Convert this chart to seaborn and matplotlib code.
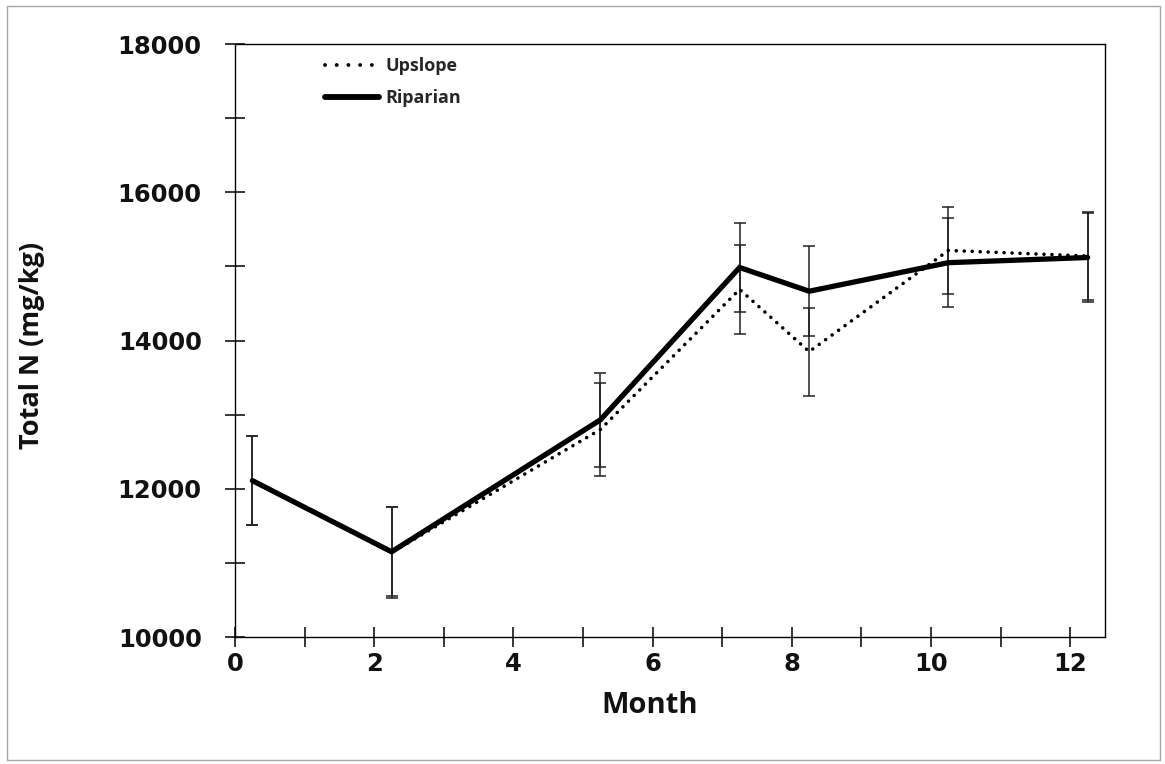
import numpy as np
import pandas as pd
import matplotlib
matplotlib.use("Agg")
import matplotlib.pyplot as plt
from matplotlib.lines import Line2D
from matplotlib.patches import Rectangle
import seaborn as sns

# Sampling months and mean total N for each site
months = [0.25, 2.25, 5.25, 7.25, 8.25, 10.25, 12.25]
upslope = [12110, 11140, 12800, 14690, 13850, 15215, 15140]
riparian = [12110, 11150, 12930, 14985, 14665, 15050, 15120]
# Standard errors
upslope_err = [600, 610, 625, 600, 595, 590, 600]
riparian_err = [600, 600, 630, 600, 610, 600, 600]

sites = ["Upslope", "Riparian"]
x_labels = ["0", "2", "4", "6", "8", "10", "12"]
y_labels = ["10000", "12000", "14000", "16000", "18000"]

df = pd.DataFrame({
    "Month": months * 2,
    "Total N": upslope + riparian,
    "Site": ["Upslope"] * len(months) + ["Riparian"] * len(months),
})

sns.set_style("white")
tick_font = "DejaVu Sans"
title_font = "Open Sans"
DOTS = (0, (0.01, 2.2))
LEGEND_DOTS = (0, (0.01, 3.0))

fig = plt.figure(figsize=(11.65, 7.64), dpi=100)
ax = fig.add_axes([0.2017, 0.1662, 0.7468, 0.7762])

# Error bars under the lines
ax.errorbar(months, upslope, yerr=upslope_err, fmt="none", ecolor="#222222",
            elinewidth=1.1, capsize=4.6, capthick=1.1, zorder=2)
ax.errorbar(months, riparian, yerr=riparian_err, fmt="none", ecolor="#222222",
            elinewidth=1.1, capsize=4.6, capthick=1.1, zorder=2)

n_before = len(ax.get_lines())
sns.lineplot(data=df, x="Month", y="Total N", hue="Site", style="Site",
             size="Site", hue_order=sites, style_order=sites, size_order=sites,
             palette={"Upslope": "black", "Riparian": "black"},
             dashes={"Upslope": (1, 1), "Riparian": ""},
             sizes={"Upslope": 2.6, "Riparian": 3.8},
             legend=False, ax=ax, zorder=3)

series_lines = ax.get_lines()[n_before:]
for line in series_lines:
    line.set_solid_capstyle("round")
    line.set_solid_joinstyle("miter")
# Upslope drawn as round dots
series_lines[0].set_linestyle(DOTS)
series_lines[0].set_dash_capstyle("round")

ax.set_xlim(0, 12.5)
ax.set_ylim(10000, 18000)
ax.set_xticks([int(v) for v in x_labels])
ax.set_xticklabels(x_labels)
ax.set_xticks(np.arange(1, 12, 2), minor=True)
ax.set_yticks([int(v) for v in y_labels])
ax.set_yticklabels(y_labels)
ax.set_yticks(np.arange(11000, 18000, 2000), minor=True)

for which in ("major", "minor"):
    ax.tick_params(axis="both", which=which, direction="inout", length=14,
                   width=1.1, color="black", bottom=True, left=True,
                   top=False, right=False)
ax.tick_params(axis="x", which="major", pad=4)
ax.tick_params(axis="y", which="major", pad=17)

for lab in ax.get_xticklabels() + ax.get_yticklabels():
    lab.set_fontfamily(tick_font)
    lab.set_fontweight("bold")
    lab.set_fontsize(17.5)
    lab.set_color("#111111")

for sp in ax.spines.values():
    sp.set_visible(True)
    sp.set_color("black")
    sp.set_linewidth(1.0)

ax.set_xlabel("Month", fontfamily=title_font, fontweight="bold", fontsize=21,
              color="#111111")
ax.set_ylabel("Total N (mg/kg)", fontfamily=title_font, fontweight="bold",
              fontsize=19.5, color="#111111")
ax.xaxis.set_label_coords((650 - 235) / 870, -(705 - 637) / 593)
ax.yaxis.set_label_coords(-(235 - 32) / 870, (637 - 345) / 593)
ax.xaxis.label.set_va("center")
ax.yaxis.label.set_va("center")

handles = [
    Line2D([], [], color="black", lw=2.8, linestyle=LEGEND_DOTS,
           dash_capstyle="round"),
    Line2D([], [], color="black", lw=4.2, solid_capstyle="round"),
]
leg = ax.legend(handles, sites, loc="upper left", bbox_to_anchor=(0.085, 1.005),
                frameon=False, handlelength=3.0, handletextpad=0.35,
                labelspacing=0.75, prop={"family": title_font, "weight": "bold",
                                         "size": 13})

# Thin frame around the whole figure
fig.patches.append(Rectangle((7 / 1165, 4 / 764), 1153 / 1165, 754 / 764,
                             transform=fig.transFigure, fill=False,
                             edgecolor="#a6a6a6", linewidth=1.0))

fig.savefig("out.png", dpi=100)
